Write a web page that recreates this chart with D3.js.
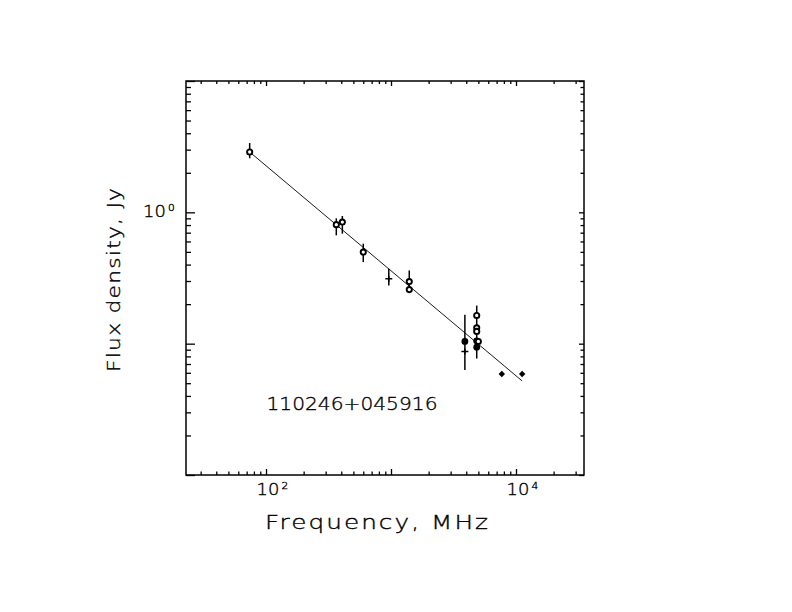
<!DOCTYPE html>
<html>
<head>
<meta charset="utf-8">
<script src="https://cdn.jsdelivr.net/npm/d3@7"></script>
<style>
  html, body { margin: 0; padding: 0; background: #fff; }
  svg { display: block; }
  text { font-family: "DejaVu Sans", Roboto, sans-serif; font-weight: 200; fill: #000; stroke: #000; stroke-width: 0.35; }
</style>
</head>
<body>
<div id="chart"></div>
<script>
const freq = [74, 365, 408, 600, 960, 1400, 1400, 3900, 3900, 4850, 4850, 4850, 4850, 5000, 4850, 7700, 11200];
const flux = [2.88, 0.806, 0.843, 0.498, 0.312, 0.297, 0.258, 0.104, 0.087, 0.164, 0.132, 0.124, 0.105, 0.104, 0.094, 0.0587, 0.0587];
const fluxLo = [2.58, 0.668, 0.688, 0.418, 0.277, 0.245, null, 0.063, null, null, null, 0.077, null, null, null, null, null];
const fluxHi = [3.37, 0.90, 0.938, 0.577, 0.372, 0.361, null, 0.166, null, null, null, 0.195, null, null, null, null, null];
const marker = ['open', 'open', 'open', 'open', 'cross', 'open', 'open', 'filled', 'cross', 'open', 'open', 'open', 'filled', 'open', 'filled', 'diamond', 'diamond'];

// fitted power law, end points
const fitFreq = [74, 11200];
const fitFlux = [2.88, 0.052];

const xLabelTicks = [100, 10000];
const xLabelExps = ['2', '4'];
const yLabelTicks = [1];
const yLabelExps = ['0'];

const sourceName = '110246+045916';
const xTitle = 'Frequency, MHz';
const yTitle = 'Flux density, Jy';

(function () {
  const width = 792, height = 612;
  const frame = { left: 186, right: 584, top: 81, bottom: 475 };

  const svg = d3.select('#chart').append('svg')
    .attr('width', width)
    .attr('height', height);

  svg.append('rect').attr('width', width).attr('height', height).attr('fill', '#fff');

  const x = d3.scaleLog().domain([22.9, 35000]).range([frame.left, frame.right]);
  const y = d3.scaleLog().domain([0.01, 10]).range([frame.bottom, frame.top]);

  const isDecade = v => Math.abs(Math.log10(v) - Math.round(Math.log10(v))) < 1e-6;
  const xMajor = x.ticks().filter(isDecade);
  const xMinor = x.ticks().filter(v => !isDecade(v));
  const yMajor = y.ticks().filter(isDecade);
  const yMinor = y.ticks().filter(v => !isDecade(v));

  function tickAxis(axisFn, scale, values, size, tx, ty) {
    const g = svg.append('g')
      .attr('transform', `translate(${tx},${ty})`)
      .call(axisFn(scale).tickValues(values).tickSizeInner(-size).tickSizeOuter(0).tickFormat(''));
    g.select('.domain').remove();
    g.selectAll('line').attr('stroke', '#000').attr('stroke-width', 1.3);
  }

  tickAxis(d3.axisBottom, x, xMajor, 6, 0, frame.bottom);
  tickAxis(d3.axisBottom, x, xMinor, 3.5, 0, frame.bottom);
  tickAxis(d3.axisTop, x, xMajor, 5, 0, frame.top);
  tickAxis(d3.axisTop, x, xMinor, 3, 0, frame.top);
  tickAxis(d3.axisLeft, y, yMajor, 9, frame.left, 0);
  tickAxis(d3.axisLeft, y, yMinor, 5, frame.left, 0);
  tickAxis(d3.axisRight, y, yMajor, 5, frame.right, 0);
  tickAxis(d3.axisRight, y, yMinor, 3.5, frame.right, 0);

  svg.append('rect')
    .attr('x', frame.left).attr('y', frame.top)
    .attr('width', frame.right - frame.left).attr('height', frame.bottom - frame.top)
    .attr('fill', 'none')
    .attr('stroke', '#000')
    .attr('stroke-width', 1.5);

  // wide, thin lettering like the plotter font: stretch glyphs horizontally
  function label(tx, ty, rot, sx, size, len, str) {
    return svg.append('text')
      .attr('transform', `translate(${tx},${ty}) rotate(${rot}) scale(${sx},1)`)
      .attr('font-size', size)
      .attr('textLength', len / sx)
      .attr('lengthAdjust', 'spacing')
      .text(str);
  }

  // tick labels, 10 with a raised exponent
  function powerLabel(tx, ty, exp) {
    const t = svg.append('text')
      .attr('transform', `translate(${tx},${ty}) scale(1.12,1)`)
      .attr('font-size', 16);
    t.append('tspan').text('10');
    t.append('tspan').attr('dx', 2).attr('dy', -6).attr('font-size', 9.5).text(exp);
  }

  xLabelTicks.forEach((v, i) => powerLabel(x(v) - 9.5, 495, xLabelExps[i]));
  yLabelTicks.forEach((v, i) => powerLabel(143, y(v) + 5, yLabelExps[i]));

  label(265, 528.5, 0, 1.3, 19, 223, xTitle);
  label(120, 372, -90, 1.25, 17.5, 184, yTitle);
  label(266.5, 410, 0, 1.12, 18, 171, sourceName);

  // fit line
  const line = d3.line().x(d => x(d[0])).y(d => y(d[1]));
  svg.append('path')
    .attr('d', line(d3.zip(fitFreq, fitFlux)))
    .attr('fill', 'none')
    .attr('stroke', '#000')
    .attr('stroke-width', 0.9);

  const points = freq.map((f, i) => ({ f, s: flux[i], lo: fluxLo[i], hi: fluxHi[i], m: marker[i] }));

  const bars = svg.append('g');
  points.filter(d => d.lo != null).forEach(d => {
    bars.append('line')
      .attr('x1', x(d.f)).attr('x2', x(d.f))
      .attr('y1', y(d.hi)).attr('y2', y(d.lo))
      .attr('stroke', '#000')
      .attr('stroke-width', 1.5);
  });

  const marks = svg.append('g');
  points.forEach(d => {
    const px = x(d.f), py = y(d.s);
    if (d.m === 'open') {
      marks.append('circle')
        .attr('cx', px).attr('cy', py).attr('r', 2.6)
        .attr('fill', '#fff').attr('stroke', '#000').attr('stroke-width', 1.9);
    } else if (d.m === 'filled') {
      marks.append('circle')
        .attr('cx', px).attr('cy', py).attr('r', 3.4)
        .attr('fill', '#000');
    } else if (d.m === 'diamond') {
      marks.append('path')
        .attr('d', `M${px},${py - 3.2}L${px + 3.2},${py}L${px},${py + 3.2}L${px - 3.2},${py}Z`)
        .attr('fill', '#000');
    } else {
      marks.append('path')
        .attr('d', `M${px - 3.5},${py}H${px + 3.5}M${px},${py - 3}V${py + 3}`)
        .attr('stroke', '#000').attr('stroke-width', 1.5);
    }
  });
})();
</script>
</body>
</html>
